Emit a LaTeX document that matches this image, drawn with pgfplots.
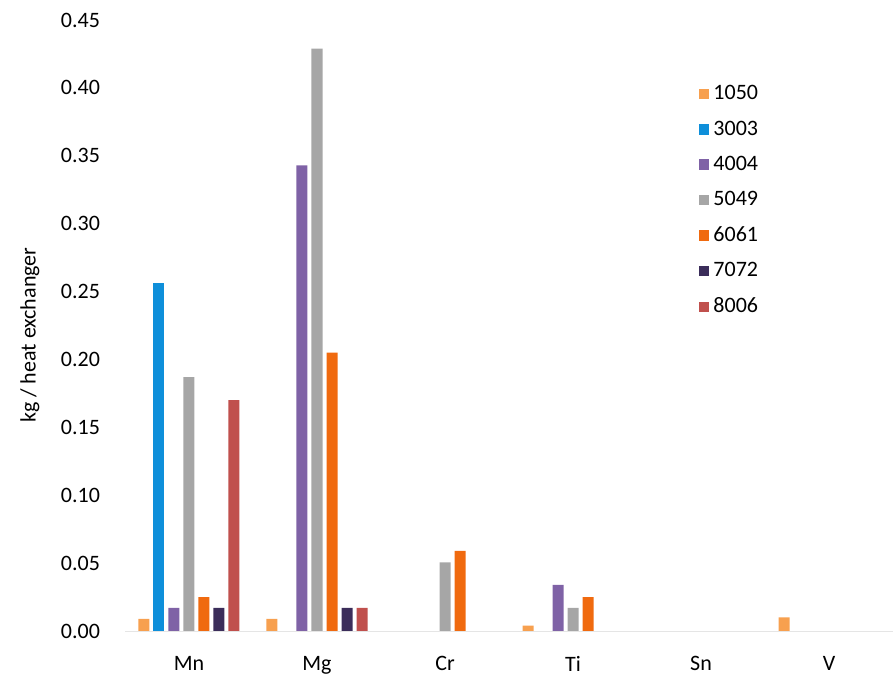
\documentclass[border=0pt]{standalone}
\usepackage{pgfplots}
\pgfplotsset{compat=1.18}
\usepackage{fontspec}
\setmainfont{Carlito}
\definecolor{c1050}{HTML}{F7A04F}
\definecolor{c3003}{HTML}{0E8FDA}
\definecolor{c4004}{HTML}{7F62A6}
\definecolor{c5049}{HTML}{A6A6A6}
\definecolor{c6061}{HTML}{F06A0F}
\definecolor{c7072}{HTML}{3B2D5A}
\definecolor{c8006}{HTML}{C0504D}
\begin{document}
\begin{tikzpicture}
\begin{axis}[
  scale only axis,
  width=384pt, height=305.5pt,
  xmin=-0.5, xmax=5.5,
  ymin=0, ymax=0.45,
  ybar=2pt, bar width=5.5pt,
  xtick={0,1,2,3,4,5},
  xticklabels={Mn,Mg,Cr,Ti,Sn,V},
  ytick={0,0.05,...,0.46},
  font=\fontsize{11}{13}\selectfont,
  /pgf/number format/assume math mode=true,
  yticklabel style={/pgf/number format/fixed, /pgf/number format/precision=2, /pgf/number format/fixed zerofill, xshift=-9pt},
  xticklabel style={yshift=-5pt},
  scaled y ticks=false,
  axis x line*=bottom, axis y line*=left,
  x axis line style={draw=gray!20, -},
  y axis line style={draw=none},
  tick style={draw=none},
  ylabel={kg / heat exchanger},
  ylabel style={at={(axis description cs:-0.124,0.484)}, anchor=center},
  legend cell align=left,
  legend style={at={(rel axis cs:0.747,0.90)}, anchor=north west, draw=none, fill=none, inner sep=0pt, row sep=5pt, font=\fontsize{11}{13}\selectfont},
  legend image code/.code={\fill[#1] (0pt,-2.6pt) rectangle (5.2pt,2.6pt);},
]
\addplot[fill=c1050, draw=none] coordinates {(0,0.009) (1,0.009) (3,0.004) (5,0.010)};
\addplot[fill=c3003, draw=none] coordinates {(0,0.256)};
\addplot[fill=c4004, draw=none] coordinates {(0,0.017) (1,0.343) (3,0.034)};
\addplot[fill=c5049, draw=none] coordinates {(0,0.187) (1,0.429) (2,0.0505) (3,0.017)};
\addplot[fill=c6061, draw=none] coordinates {(0,0.025) (1,0.205) (2,0.059) (3,0.025)};
\addplot[fill=c7072, draw=none] coordinates {(0,0.017) (1,0.017)};
\addplot[fill=c8006, draw=none] coordinates {(0,0.170) (1,0.017)};
\legend{1050,3003,4004,5049,6061,7072,8006}
\end{axis}
\path ([xshift=-62.5pt, yshift=-21.5pt]current axis.south west) rectangle ([xshift=1pt, yshift=10pt]current axis.north east);
\end{tikzpicture}
\end{document}
